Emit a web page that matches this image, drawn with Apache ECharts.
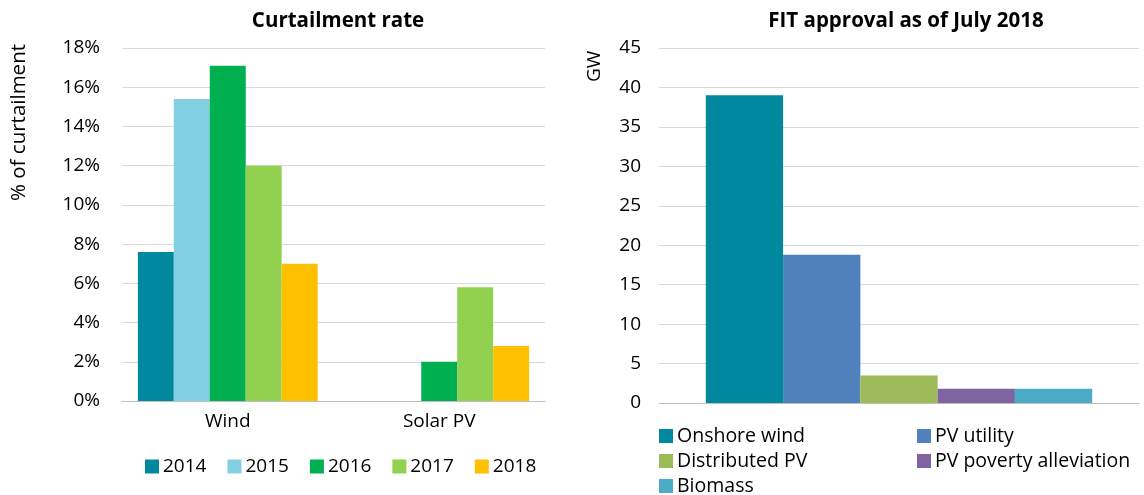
<!DOCTYPE html>
<html><head><meta charset="utf-8">
<script src="https://cdn.jsdelivr.net/npm/echarts@6/dist/echarts.min.js"></script>
<style>html,body{margin:0;padding:0;background:#fff}#c{width:1144px;height:495px}</style>
</head><body><div id="c"></div>
<script>
const curtCategories = ['Wind', 'Solar PV'];
const years = ['2014', '2015', '2016', '2017', '2018'];
const curt2014 = [7.6, 0];
const curt2015 = [15.4, 0];
const curt2016 = [17.1, 2.0];
const curt2017 = [12.0, 5.8];
const curt2018 = [7.0, 2.8];
const curtTicks = [0, 2, 4, 6, 8, 10, 12, 14, 16, 18];

const fitTechs = ['Onshore wind', 'PV utility', 'Distributed PV', 'PV poverty alleviation', 'Biomass'];
const fitValues = [39.0, 18.8, 3.5, 1.8, 1.8];
const fitTicks = [0, 5, 10, 15, 20, 25, 30, 35, 40, 45];

const yearColors = ['#00889E', '#82CFE2', '#00AF50', '#92D050', '#FFC000'];
const fitColors = ['#00889E', '#4F81BD', '#9BBB59', '#8064A2', '#4BACC6'];
const FONT = 'Open Sans';
const curtData = [curt2014, curt2015, curt2016, curt2017, curt2018];

const chart = echarts.init(document.getElementById('c'));
const txt = {fontFamily: FONT, fontSize: 19, color: '#000'};
const series = [];
years.forEach((y, i) => {
  series.push({name: y, type: 'bar', xAxisIndex: 0, yAxisIndex: 0, data: curtData[i],
    barGap: '0%', barCategoryGap: '15%', itemStyle: {color: yearColors[i]}});
});
fitTechs.forEach((t, i) => {
  series.push({name: t, type: 'bar', xAxisIndex: 1, yAxisIndex: 1, data: [fitValues[i]],
    barGap: '0%', barCategoryGap: '19.5%', itemStyle: {color: fitColors[i]}});
});
const legTxt = Object.assign({padding: [0, 0, 0, -1]}, txt);
const legTxt2 = Object.assign({}, legTxt, {fontSize: 19.5});
chart.setOption({
  animation: false,
  title: [
    {text: 'Curtailment rate', left: 333, top: 6, textAlign: 'center', textStyle: {fontFamily: FONT, fontSize: 20.5, fontWeight: 'bold', color: '#000'}},
    {text: 'FIT approval as of July 2018', left: 901, top: 6, textAlign: 'center', textStyle: {fontFamily: FONT, fontSize: 20.5, fontWeight: 'bold', color: '#000'}}
  ],
  grid: [
    {left: 122, right: 599, top: 48, bottom: 94},
    {left: 659, right: 5, top: 48, bottom: 92}
  ],
  xAxis: [
    {type: 'category', gridIndex: 0, data: curtCategories,
      axisLine: {lineStyle: {color: '#bfbfbf'}}, axisTick: {length: 6, lineStyle: {color: '#bfbfbf'}},
      axisLabel: Object.assign({margin: 11}, txt)},
    {type: 'category', gridIndex: 1, data: [''],
      axisLine: {lineStyle: {color: '#bfbfbf'}}, axisTick: {length: 6, lineStyle: {color: '#bfbfbf'}},
      axisLabel: {show: false}}
  ],
  yAxis: [
    {type: 'value', gridIndex: 0, min: curtTicks[0], max: curtTicks[curtTicks.length - 1], interval: 2,
      axisLine: {show: false}, axisTick: {show: false},
      splitLine: {lineStyle: {color: '#d9d9d9'}},
      axisLabel: Object.assign({margin: 22, formatter: v => v + '%'}, txt)},
    {type: 'value', gridIndex: 1, min: fitTicks[0], max: fitTicks[fitTicks.length - 1], interval: 5,
      axisLine: {show: false}, axisTick: {show: false},
      splitLine: {lineStyle: {color: '#d9d9d9'}},
      axisLabel: Object.assign({margin: 18}, txt)}
  ],
  legend: [
    {data: years, left: 140, top: 452, itemWidth: 14, itemHeight: 14, itemGap: 21, icon: 'rect',
      textStyle: legTxt},
    {data: [fitTechs[0], fitTechs[2], fitTechs[4]], orient: 'vertical', left: 659, top: 426, height: 90,
      itemWidth: 14, itemHeight: 14, itemGap: 5, icon: 'rect', padding: 0, textStyle: legTxt2},
    {data: [fitTechs[1], fitTechs[3]], orient: 'vertical', left: 917, top: 426, height: 90,
      itemWidth: 14, itemHeight: 14, itemGap: 5, icon: 'rect', padding: 0, textStyle: legTxt2}
  ],
  graphic: [
    {type: 'text', x: 9, y: 201, rotation: Math.PI / 2, style: {text: '% of curtailment', fontFamily: FONT, fontSize: 20.5, fill: '#000'}},
    {type: 'text', x: 585, y: 82, rotation: Math.PI / 2, style: {text: 'GW', fontFamily: FONT, fontSize: 19, fill: '#000'}}
  ],
  series: series
});
</script></body></html>
